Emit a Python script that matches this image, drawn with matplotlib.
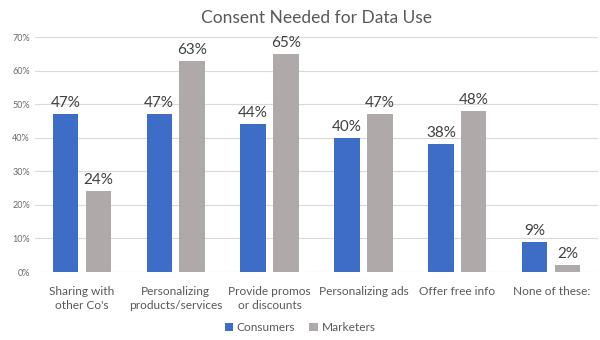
import matplotlib
matplotlib.use('Agg')
import matplotlib.pyplot as plt
import numpy as np

plt.rcParams['font.family'] = ['Lato', 'DejaVu Sans']

categories = ["Sharing with\nother Co's", "Personalizing\nproducts/services", "Provide promos\nor discounts",
              "Personalizing ads", "Offer free info", "None of these:"]
consumers = [47, 47, 44, 40, 38, 9]
marketers = [24, 63, 65, 47, 48, 2]
yticks = [0, 10, 20, 30, 40, 50, 60, 70]

blue = '#3D6DC6'
grey = '#AFA9A9'
txt = '#595959'

fig = plt.figure(figsize=(6, 3.4), dpi=100)
ax = fig.add_axes([0.058, 0.2, 0.939, 0.691])

x = np.arange(len(categories))
w = 0.27
off = 0.175
b1 = ax.bar(x - off, consumers, w, color=blue, label='Consumers', zorder=3)
b2 = ax.bar(x + off, marketers, w, color=grey, label='Marketers', zorder=3)

for bars, vals in ((b1, consumers), (b2, marketers)):
    for b, v in zip(bars, vals):
        ax.text(b.get_x() + b.get_width() / 2, v + 1.2, f'{v}%', ha='center', va='bottom',
                fontsize=11, color='#404040')

ax.set_xlim(-0.5, len(categories) - 0.5)
ax.set_ylim(0, 70)
ax.set_yticks(yticks)
ax.set_yticklabels([f'{t}%' for t in yticks], fontsize=6.5, color='#6a6a6a')
ax.set_xticks(x)
ax.set_xticklabels(categories, fontsize=8.6, color=txt, linespacing=1.3)
ax.tick_params(axis='both', length=0)
ax.tick_params(axis='x', pad=10)
ax.grid(axis='y', color='#D9D9D9', linewidth=0.8, zorder=0)
for s in ax.spines.values():
    s.set_visible(False)

ax.set_title('Consent Needed for Data Use', fontsize=12.5, color=txt, pad=10)
fig.legend(loc='lower center', bbox_to_anchor=(0.5, -0.012), ncol=2, frameon=False, fontsize=8.6,
           handlelength=0.7, handleheight=0.7, handletextpad=0.3, columnspacing=1.2,
           labelcolor=txt)

fig.savefig('out.png', dpi=100)
